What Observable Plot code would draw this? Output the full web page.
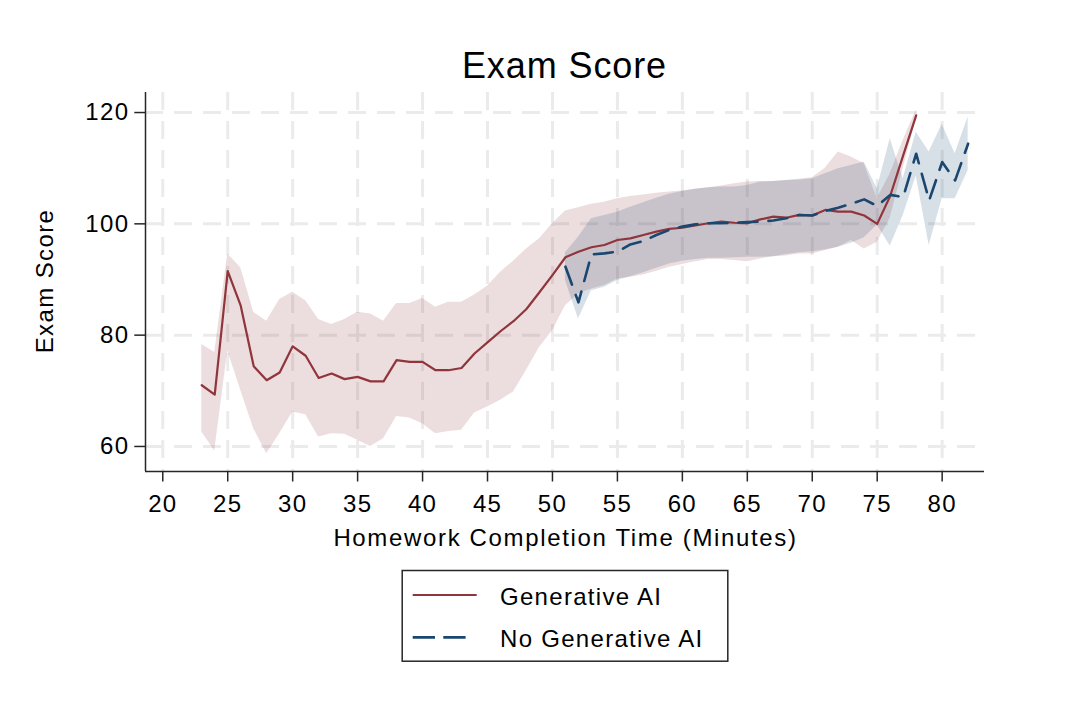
<!DOCTYPE html>
<html>
<head>
<meta charset="utf-8">
<script src="https://cdn.jsdelivr.net/npm/d3@7"></script>
<script src="https://cdn.jsdelivr.net/npm/@observablehq/plot@0.6"></script>
<style>
html, body { margin: 0; padding: 0; background: #fff; }
#wrap { position: relative; width: 1078px; height: 706px; overflow: hidden;
        font-family: "Liberation Sans", Arial, Helvetica, sans-serif; }
#wrap svg text { letter-spacing: 1.3px; }
#legend { position: absolute; left: 0; top: 0; }
</style>
</head>
<body>
<div id="wrap"></div>
<script>
// ---- Data ----
const genX = [23,24,25,26,27,28,29,30,31,32,33,34,35,36,37,38,39,40,41,42,43,44,45,46,47,48,49,50,
              51,52,53,54,55,56,57,58,59,60,61,62,63,64,65,66,67,68,69,70,71,72,73,74,75,76,77,78];
const genMean = [71.0,69.3,91.5,85.3,74.4,71.9,73.3,78.0,76.3,72.3,73.1,72.1,72.5,71.7,71.7,75.5,75.2,75.2,73.7,73.7,74.1,76.7,78.7,80.7,82.5,84.7,87.7,90.8,
                 94.0,95.0,95.8,96.2,97.1,97.4,98.0,98.6,99.1,99.3,99.7,100.1,100.4,100.2,100.1,100.8,101.3,101.1,101.6,101.5,102.5,102.2,102.2,101.5,100.0,105.0,112.3,119.5];
const genHi = [78.3,76.9,94.6,92.1,84.1,82.5,86.4,87.7,86.2,82.8,81.9,82.8,84.1,83.8,82.5,85.7,85.7,86.6,85.0,85.9,85.9,87.2,88.8,91.3,93.3,95.5,97.3,100.0,
               102.3,102.9,103.5,103.9,104.5,104.9,105.2,105.5,105.7,105.9,106.2,106.5,106.8,107.2,107.5,107.6,107.6,107.8,108.0,108.3,110.0,112.9,112.0,110.8,104.5,109.0,115.0,120.4];
const genLo = [62.6,59.2,77.2,70.1,63.2,58.7,62.3,66.2,65.7,61.7,62.3,62.2,61.1,60.0,61.4,65.4,65.1,64.1,62.3,62.7,62.9,66.0,67.1,68.3,69.8,73.7,77.8,80.8,
               85.3,87.4,88.3,88.9,90.1,90.4,90.8,91.5,92.2,92.7,93.2,93.6,93.6,93.4,93.2,93.7,94.1,94.2,94.6,94.6,95.2,95.8,97.0,95.5,96.7,101.0,110.0,118.8];

const noX = [51,52,53,54,55,56,57,58,59,60,61,62,63,64,65,66,67,68,69,70,71,72,73,74,75,76,77,78,79,80,81,82];
const noMean = [92.3,85.9,94.5,94.7,95.0,96.3,96.9,98.0,98.9,99.5,99.9,100.1,100.1,100.2,100.3,100.4,100.6,101.0,101.6,101.5,102.3,102.9,103.6,104.4,103.2,105.2,104.8,112.6,104.2,111.1,107.8,114.4];
const noHi = [94.8,97.6,100.9,101.5,102.1,103.0,103.8,104.6,105.3,105.8,106.2,106.5,106.6,106.6,106.9,107.5,107.6,107.8,107.9,108.1,109.0,109.9,110.5,111.1,106.3,115.3,108.1,116.5,112.9,117.9,112.6,119.2];
const noLo = [89.8,82.9,88.0,88.6,89.8,90.5,91.2,92.0,92.8,93.3,93.6,93.8,93.8,93.9,94.0,94.0,94.1,94.5,94.8,95.0,95.3,95.8,96.5,97.5,99.8,96.0,101.5,108.6,96.1,104.5,104.5,109.6];

const xTicks = [20,25,30,35,40,45,50,55,60,65,70,75,80];
const yTicks = [60,80,100,120];
const seriesNames = ["Generative AI", "No Generative AI"];
const titleText = "Exam Score";
const xLabel = "Homework Completion Time (Minutes)";
const yLabel = "Exam Score";

const red = "#90353b";
const blue = "#1a476f";
const axisColor = "#262626";
const gridColor = "#ebebeb";

const gen = genX.map((x, i) => ({x, y: genMean[i], lo: genLo[i], hi: genHi[i]}));
const nog = noX.map((x, i) => ({x, y: noMean[i], lo: noLo[i], hi: noHi[i]}));

const xDomain = [18.67, 83.26];
const yDomain = [55.5, 123.6];

const chart = Plot.plot({
  width: 1078,
  height: 706,
  marginLeft: 145,
  marginRight: 94,
  marginTop: 92,
  marginBottom: 235,
  x: {domain: xDomain},
  y: {domain: yDomain},
  style: {fontFamily: '"Liberation Sans", Arial, Helvetica, sans-serif', fontSize: "24px", color: "#000", background: "#fff", overflow: "visible"},
  marks: [
    Plot.gridX(xTicks, {stroke: gridColor, strokeOpacity: 1, strokeWidth: 3, strokeDasharray: "18,11"}),
    Plot.gridY(yTicks, {stroke: gridColor, strokeOpacity: 1, strokeWidth: 3, strokeDasharray: "18,11"}),
    Plot.areaY(gen, {x: "x", y1: "lo", y2: "hi", fill: red, fillOpacity: 0.17}),
    Plot.areaY(nog, {x: "x", y1: "lo", y2: "hi", fill: blue, fillOpacity: 0.17}),
    Plot.lineY(gen, {x: "x", y: "y", stroke: red, strokeWidth: 2.2}),
    Plot.lineY(nog, {x: "x", y: "y", stroke: blue, strokeWidth: 2.6, strokeDasharray: "19,11"}),
    Plot.ruleX([xDomain[0]], {stroke: axisColor, strokeWidth: 1.5}),
    Plot.ruleY([yDomain[0]], {stroke: axisColor, strokeWidth: 1.5}),
    Plot.axisX(xTicks, {tickSize: 10.5, tickPadding: 12.5, label: null, stroke: axisColor, strokeWidth: 1.5, tickFormat: d => String(d)}),
    Plot.axisY(yTicks, {tickSize: 10.7, tickPadding: 5.5, label: null, stroke: axisColor, strokeWidth: 1.5, tickFormat: d => String(d)})
  ]
});

const wrap = document.getElementById("wrap");
wrap.appendChild(chart);

const svg = d3.select(chart);
svg.append("text")
  .attr("x", 564.5).attr("y", 77.7)
  .attr("text-anchor", "middle")
  .style("font-size", "36px").style("letter-spacing", "0.9px")
  .attr("fill", "#000")
  .text(titleText);
svg.append("text")
  .attr("x", 565.5).attr("y", 546)
  .attr("text-anchor", "middle")
  .style("font-size", "24px").style("letter-spacing", "1.65px")
  .attr("fill", "#000")
  .text(xLabel);
svg.append("text")
  .attr("transform", "translate(53,281) rotate(-90)")
  .attr("text-anchor", "middle")
  .style("font-size", "24px").style("letter-spacing", "1.4px")
  .attr("fill", "#000")
  .text(yLabel);

// ---- Legend (below the plot area) ----
const leg = d3.select(wrap).append("svg")
  .attr("id", "legend")
  .attr("width", 1078).attr("height", 706)
  .style("pointer-events", "none");
leg.append("rect")
  .attr("x", 402.2).attr("y", 570.5).attr("width", 325.6).attr("height", 90.7)
  .attr("fill", "none").attr("stroke", axisColor).attr("stroke-width", 1.5);
const legItems = [
  {name: seriesNames[0], color: red, dash: null, w: 2.2, y: 595, x2: 476.7, ty: 605},
  {name: seriesNames[1], color: blue, dash: "22.3,8.3", w: 2.8, y: 637.3, x2: 466, ty: 647.3}
];
legItems.forEach(d => {
  const ln = leg.append("line")
    .attr("x1", 412.7).attr("x2", d.x2).attr("y1", d.y).attr("y2", d.y)
    .attr("stroke", d.color).attr("stroke-width", d.w);
  if (d.dash) ln.attr("stroke-dasharray", d.dash);
  leg.append("text")
    .attr("x", 500).attr("y", d.ty)
    .style("font-size", "24px").style("letter-spacing", "1.3px")
    .attr("fill", "#000")
    .text(d.name);
});
</script>
</body>
</html>
